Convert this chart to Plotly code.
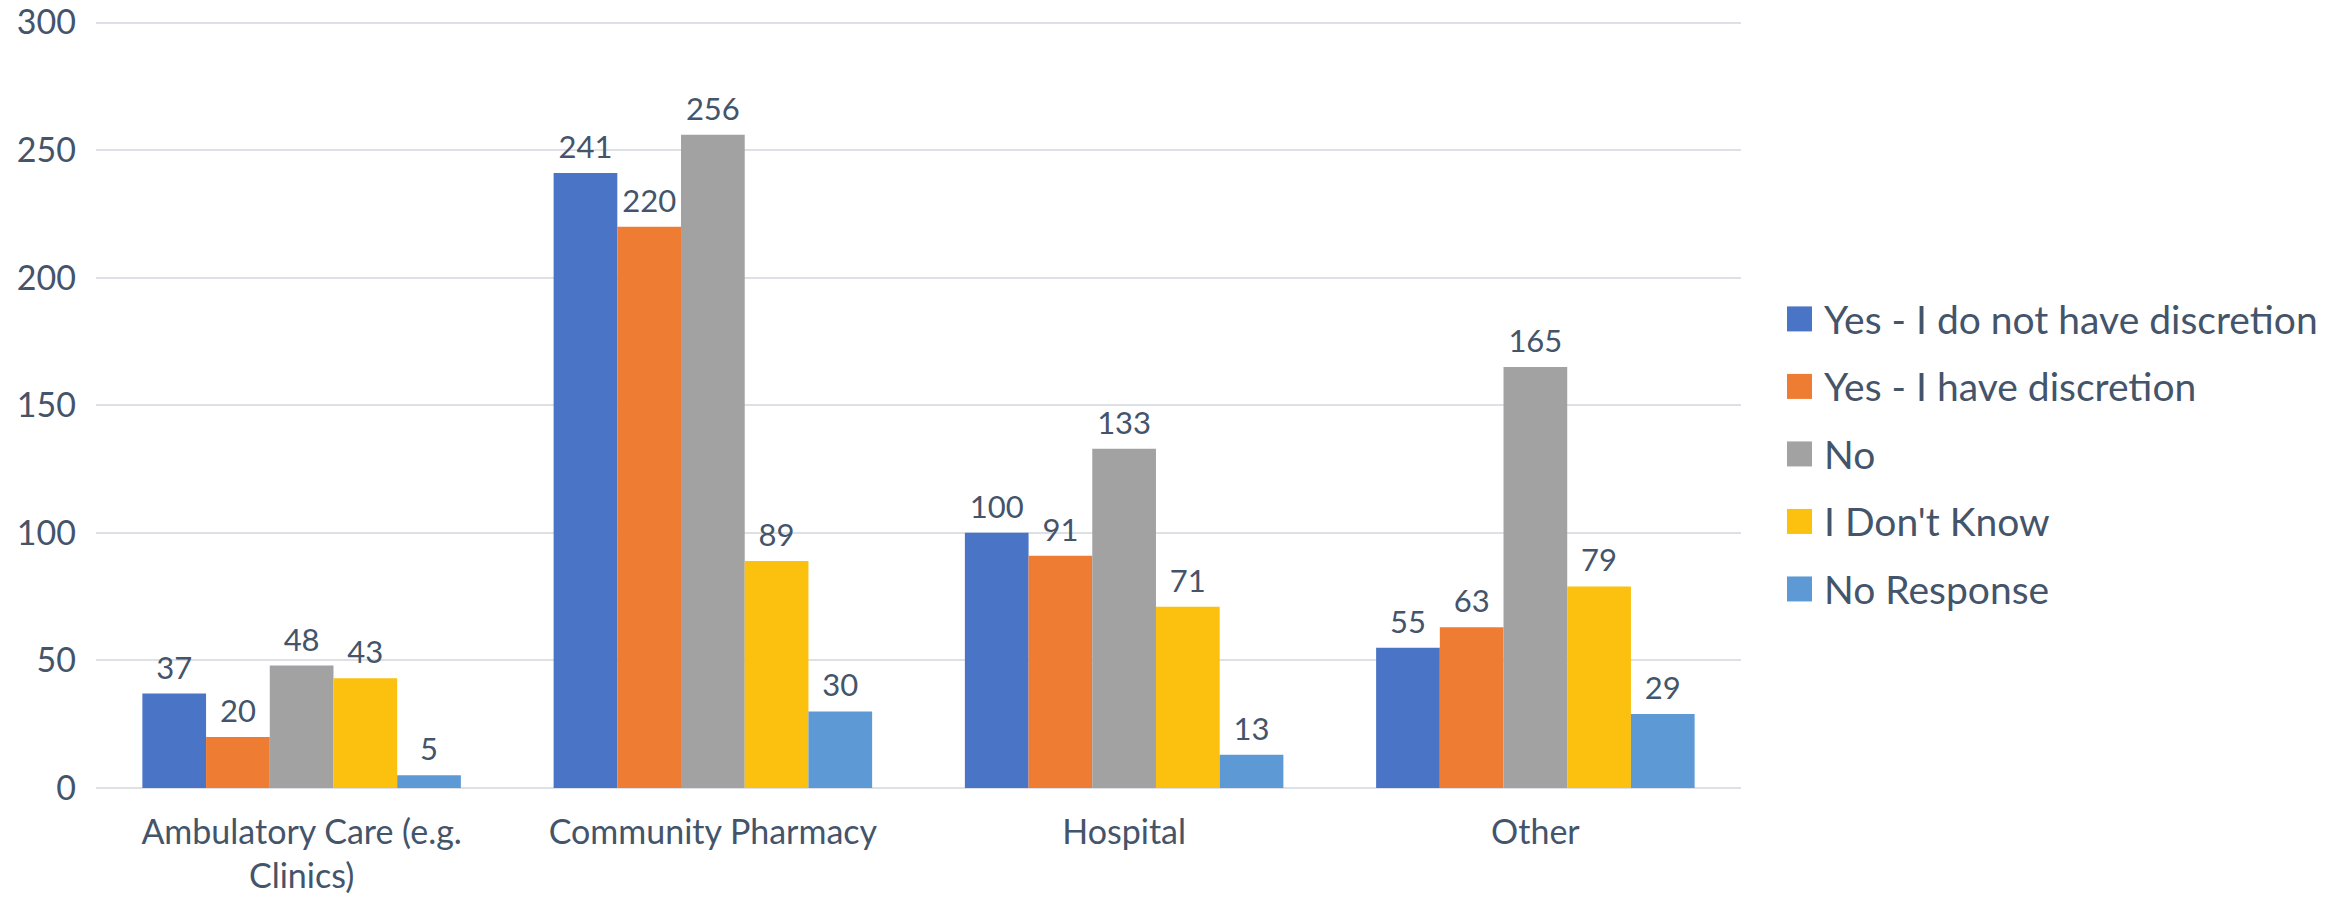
import plotly.graph_objects as go

# ---- data ----
categories = ["Ambulatory Care (e.g.<br>Clinics)", "Community Pharmacy", "Hospital", "Other"]
series_names = ["Yes - I do not have discretion", "Yes - I have discretion", "No",
                "I Don't Know", "No Response"]
yes_no_discretion = [37, 241, 100, 55]
yes_discretion = [20, 220, 91, 63]
no_values = [48, 256, 133, 165]
dont_know = [43, 89, 71, 79]
no_response = [5, 30, 13, 29]
series_values = [yes_no_discretion, yes_discretion, no_values, dont_know, no_response]
y_ticks = [0, 50, 100, 150, 200, 250, 300]
y_max = 300

# ---- style ----
colors = ["#4A74C6", "#EE7C32", "#A2A2A2", "#FCC00E", "#5D9AD5"]
text_color = "#44546A"
grid_color = "#DDE1E6"
font_family = "Lato, 'Open Sans', sans-serif"

W, H = 2349, 897
top_px, zero_px = 22.7, 788.0       # y of the 300 gridline and of the 0 line
px_per_unit = (zero_px - top_px) / y_max
y_top = y_max + 1                   # small headroom so the 300 gridline is drawn
L = 96
R = W - 1741
B = H - zero_px
T = zero_px - y_top * px_per_unit
gap = 0.2255

fig = go.Figure()
for name, vals, col in zip(series_names, series_values, colors):
    fig.add_trace(go.Bar(
        x=categories, y=vals, name=name, marker=dict(color=col, line=dict(width=0)),
        offsetgroup=name, showlegend=False, hoverinfo="skip",
    ))
for name, vals in zip(series_names, series_values):
    fig.add_trace(go.Scatter(
        x=categories, y=vals, mode="markers+text", text=[str(v) for v in vals],
        textposition="top center", marker=dict(size=10, opacity=0),
        textfont=dict(family=font_family, size=31, color=text_color),
        offsetgroup=name, showlegend=False, hoverinfo="skip", cliponaxis=False,
    ))

# custom legend (swatches + labels), positioned in paper coordinates
pw, ph = W - L - R, H - T - B
def px_x(px):
    return (px - L) / pw
def px_y(py):
    return (H - B - py) / ph

shapes, annotations = [], []
for i, (name, col) in enumerate(zip(series_names, colors)):
    cy = 319 + i * 67.5
    shapes.append(dict(type="rect", xref="paper", yref="paper",
                       x0=px_x(1787), x1=px_x(1812), y0=px_y(cy + 12.5), y1=px_y(cy - 12.5),
                       fillcolor=col, line=dict(width=0)))
    annotations.append(dict(xref="paper", yref="paper", x=px_x(1822), y=px_y(cy),
                            xanchor="left", yanchor="middle", text=name, showarrow=False,
                            font=dict(family=font_family, size=39, color=text_color)))

fig.update_layout(
    width=W, height=H,
    margin=dict(l=L, r=R, t=T, b=B, autoexpand=False),
    paper_bgcolor="white", plot_bgcolor="white",
    barmode="group", bargap=gap, bargroupgap=0,
    scattermode="group", scattergap=gap,
    showlegend=False,
    shapes=shapes, annotations=annotations,
    font=dict(family=font_family, color=text_color),
    hovermode=False,
)
fig.update_yaxes(range=[0, y_top], tickvals=y_ticks, showgrid=True, gridcolor=grid_color, gridwidth=2,
                 zeroline=True, zerolinecolor=grid_color, zerolinewidth=2, showline=False,
                 tickfont=dict(family=font_family, size=34, color=text_color),
                 ticks="", ticklabelstandoff=19, ticklabeloverflow="allow")
fig.update_xaxes(showline=False, showgrid=False, ticks="",
                 tickfont=dict(family=font_family, size=34, color=text_color),
                 ticklabelstandoff=21)

fig.write_html("out.html", config={"displayModeBar": False, "staticPlot": True},
               post_script="document.body.style.margin='0';")
